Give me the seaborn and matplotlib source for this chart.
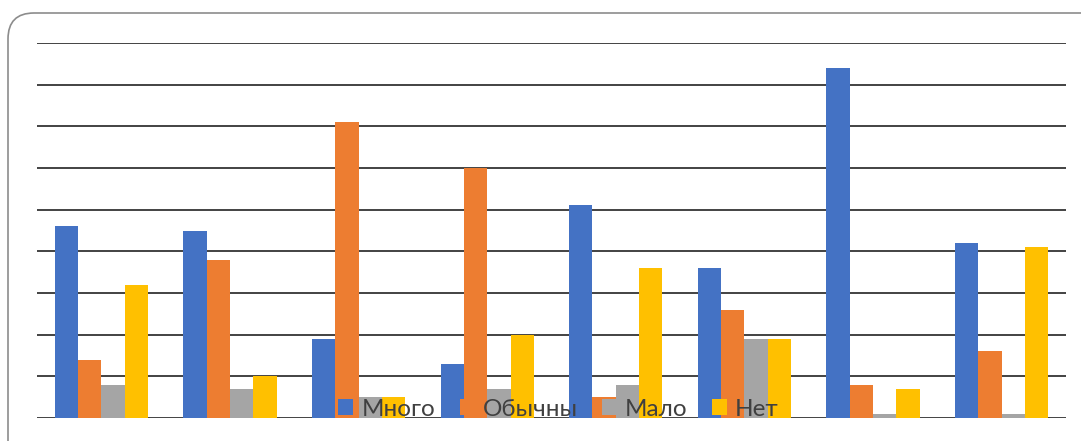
import matplotlib.pyplot as plt
import pandas as pd
import seaborn as sns
from matplotlib.patches import FancyBboxPatch

# group labels are not shown on the chart
groups = ["1", "2", "3", "4", "5", "6", "7", "8"]
series = ["Много", "Обычны", "Мало", "Нет"]

mnogo = [23, 22.5, 9.5, 6.5, 25.5, 18, 42, 21]
obychny = [7, 19, 35.5, 30, 2.5, 13, 4, 8]
malo = [4, 3.5, 2.5, 3.5, 4, 9.5, 0.5, 0.5]
net = [16, 5, 2.5, 10, 18, 9.5, 3.5, 20.5]

colors = ["#4472C4", "#ED7D31", "#A5A5A5", "#FFC000"]

df = pd.DataFrame({"group": groups, "Много": mnogo, "Обычны": obychny,
                   "Мало": malo, "Нет": net})
df = df.melt(id_vars="group", var_name="series", value_name="value")

sns.set_theme(style="white")
plt.rcParams["font.family"] = ["Lato", "DejaVu Sans"]

W, H = 1081, 441
fig = plt.figure(figsize=(W / 100, H / 100), dpi=100)
ax = fig.add_axes([37 / W, 1 - 418 / H, (1066 - 37) / W, (418 - 43) / H])

# outer rounded frame (pixel coordinates)
frame = FancyBboxPatch((8, -40), 1120, 428 + 40, boxstyle="round,pad=0,rounding_size=26",
                       transform=None, facecolor="none", edgecolor="#8c8c8c",
                       linewidth=1.2, clip_on=False)
fig.patches.append(frame)

sns.barplot(data=df, x="group", y="value", hue="series", hue_order=series,
            palette=colors, width=0.725, saturation=1, edgecolor="none",
            linewidth=0, ax=ax, zorder=3)

ax.set_ylim(0, 45)
ax.set_yticks(range(0, 46, 5))
ax.yaxis.grid(True, color="#222222", linewidth=1.2, zorder=0)
ax.set_axisbelow(True)
ax.set_xlim(-0.5, len(groups) - 0.5)
for s in ax.spines.values():
    s.set_visible(False)
ax.set_xticklabels([])
ax.set_yticklabels([])
ax.tick_params(length=0)
ax.set_xlabel("")
ax.set_ylabel("")

handles, labels = ax.get_legend_handles_labels()
leg = ax.legend(handles=handles, labels=labels, loc="lower center",
                bbox_to_anchor=(0.507, -0.03), ncol=4, frameon=False,
                fontsize=17.5, handlelength=0.6, handleheight=0.6,
                handletextpad=0.35, columnspacing=1.0, borderaxespad=0)
for t in leg.get_texts():
    t.set_color("#404040")

fig.savefig("out.png", dpi=100)
plt.close(fig)
